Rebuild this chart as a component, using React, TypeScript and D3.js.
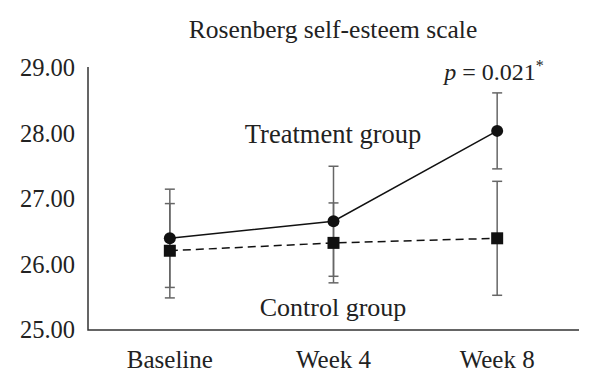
import React, { useEffect, useRef } from 'react';
import * as d3 from 'd3';

const categories = ['Baseline', 'Week 4', 'Week 8'];
const treatmentMean = [26.40, 26.66, 28.04];
const treatmentErr = [0.75, 0.84, 0.58];
const controlMean = [26.21, 26.33, 26.40];
const controlErr = [0.72, 0.61, 0.87];
const yTicks = [25, 26, 27, 28, 29];

const W = 600;
const H = 388;
const FONT = "'Liberation Serif', 'DejaVu Serif', serif";

function Chart() {
  const ref = useRef<SVGSVGElement>(null);

  useEffect(() => {
    const svg = d3.select(ref.current);
    svg.selectAll('*').remove();

    const x = d3.scaleBand().domain(categories).range([88, 579]);
    const y = d3.scaleLinear().domain([25, 29]).range([330, 68]);
    const cx = (d: string) => (x(d) as number) + x.bandwidth() / 2;

    // title
    svg.append('text')
      .attr('x', 333).attr('y', 38)
      .attr('text-anchor', 'middle')
      .style('font', `25.5px ${FONT}`).attr('fill', '#222')
      .text('Rosenberg self-esteem scale');

    // y axis labels
    svg.selectAll('.ytick')
      .data(yTicks)
      .enter().append('text')
      .attr('class', 'ytick')
      .attr('x', 75).attr('y', d => y(d) + 8)
      .attr('text-anchor', 'end')
      .style('font', `24.5px ${FONT}`).attr('fill', '#222')
      .text(d => d.toFixed(2));

    // axes lines
    svg.append('path')
      .attr('d', `M88,${y(29) - 1}V${y(25)}H579`)
      .attr('fill', 'none').attr('stroke', '#333').attr('stroke-width', 1.5);

    // x labels
    svg.selectAll('.xtick')
      .data(categories)
      .enter().append('text')
      .attr('class', 'xtick')
      .attr('x', d => cx(d)).attr('y', 368)
      .attr('text-anchor', 'middle')
      .style('font', `25px ${FONT}`).attr('fill', '#222')
      .text(d => d);

    const series = [
      { mean: treatmentMean, err: treatmentErr, dash: null, shape: 'circle' },
      { mean: controlMean, err: controlErr, dash: '8,5', shape: 'square' },
    ];

    // error bars
    series.forEach(s => {
      const g = svg.append('g').attr('stroke', '#666').attr('stroke-width', 1.5);
      categories.forEach((c, i) => {
        const lo = y(s.mean[i] - s.err[i]);
        const hi = y(s.mean[i] + s.err[i]);
        g.append('line').attr('x1', cx(c)).attr('x2', cx(c)).attr('y1', lo).attr('y2', hi);
        g.append('line').attr('x1', cx(c) - 5).attr('x2', cx(c) + 5).attr('y1', lo).attr('y2', lo);
        g.append('line').attr('x1', cx(c) - 5).attr('x2', cx(c) + 5).attr('y1', hi).attr('y2', hi);
      });
    });

    // lines and markers
    series.forEach(s => {
      const line = d3.line<number>()
        .x((_, i) => cx(categories[i]))
        .y(d => y(d));
      svg.append('path')
        .attr('d', line(s.mean))
        .attr('fill', 'none').attr('stroke', '#111').attr('stroke-width', 1.5)
        .attr('stroke-dasharray', s.dash);
      s.mean.forEach((v, i) => {
        if (s.shape === 'circle') {
          svg.append('circle').attr('cx', cx(categories[i])).attr('cy', y(v)).attr('r', 6).attr('fill', '#111');
        } else {
          svg.append('rect').attr('x', cx(categories[i]) - 6).attr('y', y(v) - 6)
            .attr('width', 12).attr('height', 12).attr('fill', '#111');
        }
      });
    });

    // annotations
    svg.append('text')
      .attr('x', 333).attr('y', 143).attr('text-anchor', 'middle')
      .style('font', `26.5px ${FONT}`).attr('fill', '#222')
      .text('Treatment group');
    svg.append('text')
      .attr('x', 333).attr('y', 316).attr('text-anchor', 'middle')
      .style('font', `26px ${FONT}`).attr('fill', '#222')
      .text('Control group');

    const p = svg.append('text')
      .attr('x', 494).attr('y', 80).attr('text-anchor', 'middle')
      .style('font', `24px ${FONT}`).attr('fill', '#222');
    p.append('tspan').style('font-style', 'italic').text('p');
    p.append('tspan').text(' = 0.021');
    p.append('tspan').attr('dy', -9).style('font-size', '16px').text('*');
  }, []);

  return <svg ref={ref} width={W} height={H} style={{ display: 'block', background: '#fff' }} />;
}

export default function App() {
  return (
    <div style={{ position: 'absolute', left: 0, top: 0 }}>
      <Chart />
    </div>
  );
}
